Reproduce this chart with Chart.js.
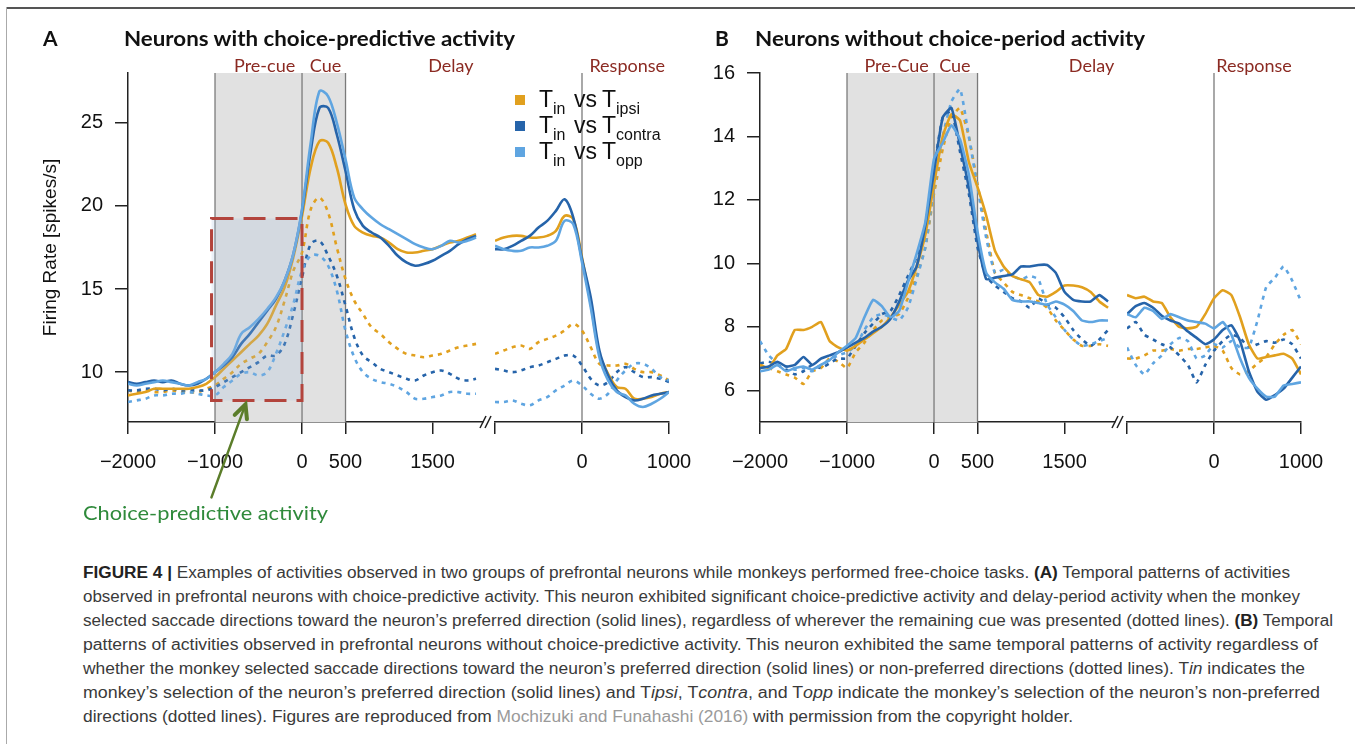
<!DOCTYPE html>
<html>
<head>
<meta charset="utf-8">
<script src="https://cdn.jsdelivr.net/npm/chart.js@4.4.0/dist/chart.umd.min.js"></script>
<style>
    body { margin: 0; background: #fff; }
    #page { position: relative; width: 1355px; height: 744px; overflow: hidden; font-family: 'Liberation Sans', Arial, sans-serif; }
    canvas { position: absolute; top: 0; }
    .abs { position: absolute; white-space: nowrap; }
    .frame-top { position: absolute; left: 7px; right: 0; top: 7px; border-top: 2px solid #555; }
    .frame-left { position: absolute; left: 6px; top: 7px; bottom: 0; border-left: 1.5px solid #aaa; }
    .letter { font: bold 21px Lato, sans-serif; top: 26px; line-height: 24px; color: #111; }
    .title { font: bold 20px Lato, sans-serif; top: 26px; line-height: 24px; color: #111; transform-origin: left center; }
    .leg { font-size: 23px; line-height: 23px; color: #111; }
    .leg .sub { font-size: 16px; position: relative; top: 7px; }
    .swatch { position: absolute; width: 10px; height: 10px; }
    .cap { left: 83px; font-size: 16px; line-height: 24px; color: #3a3a3a; transform-origin: left center; }
    .cap b { color: #222; }
    .cap .ref { color: #9a9a9a; }
    .green { font: 20px Lato, sans-serif; color: #2f8a3b; left: 83px; top: 500px; line-height: 24px; transform-origin: left center; }
</style>
</head>
<body>
<div id="page">
    <canvas id="aCue" width="500" height="520" style="left:0"></canvas>
    <canvas id="aResp" width="231" height="520" style="left:479px"></canvas>
    <canvas id="bCue" width="500" height="520" style="left:632px"></canvas>
    <canvas id="bResp" width="231" height="520" style="left:1111px"></canvas>

    <div class="frame-top"></div>
    <div class="frame-left"></div>

    <div class="abs letter" style="left:43px">A</div>
    <div class="abs title" style="left:124px" data-w="391">Neurons with choice-predictive activity</div>
    <div class="abs letter" style="left:715px">B</div>
    <div class="abs title" style="left:755px" data-w="390">Neurons without choice-period activity</div>

    <div id="legend"></div>

    <div class="abs green" data-w="245">Choice-predictive activity</div>

    <div class="abs cap" style="top:561px" data-w="1207"><b>FIGURE 4 |</b> Examples of activities observed in two groups of prefrontal neurons while monkeys performed free-choice tasks. <b>(A)</b> Temporal patterns of activities</div>
    <div class="abs cap" style="top:585px" data-w="1217">observed in prefrontal neurons with choice-predictive activity. This neuron exhibited significant choice-predictive activity and delay-period activity when the monkey</div>
    <div class="abs cap" style="top:609px" data-w="1250">selected saccade directions toward the neuron’s preferred direction (solid lines), regardless of wherever the remaining cue was presented (dotted lines). <b>(B)</b> Temporal</div>
    <div class="abs cap" style="top:633px" data-w="1235">patterns of activities observed in prefrontal neurons without choice-predictive activity. This neuron exhibited the same temporal patterns of activity regardless of</div>
    <div class="abs cap" style="top:657px" data-w="1222">whether the monkey selected saccade directions toward the neuron’s preferred direction (solid lines) or non-preferred directions (dotted lines). T<i>in</i> indicates the</div>
    <div class="abs cap" style="top:681px" data-w="1237">monkey’s selection of the neuron’s preferred direction (solid lines) and T<i>ipsi</i>, T<i>contra</i>, and T<i>opp</i> indicate the monkey’s selection of the neuron’s non-preferred</div>
    <div class="abs cap last" style="top:705px">directions (dotted lines). Figures are reproduced from <span class="ref">Mochizuki and Funahashi (2016)</span> with permission from the copyright holder.</div>
</div>

<script>
// time axes (ms), cue-aligned and response-aligned
const T_CUE = [-2000, -1900, -1800, -1700, -1600, -1500, -1400, -1300, -1200, -1100, -1000, -900, -800, -700, -600, -500, -400, -300, -200, -100, 0, 100, 200, 300, 400, 500, 600, 700, 800, 900, 1000, 1100, 1200, 1300, 1400, 1500, 1600, 1700, 1800, 1900, 2000];
const T_RESP = [-1000, -900, -800, -700, -600, -500, -400, -300, -200, -100, 0, 100, 200, 300, 400, 500, 600, 700, 800, 900, 1000];

const X_TICKS_CUE = [-2000, -1000, 0, 500, 1500];
const X_TICKS_RESP = [-1000, 0, 1000];
const X_LABELS_RESP = ['', '0', '1000'];

const Y_TICKS_A = [10, 15, 20, 25];
const Y_RANGE_A = [7, 28];
const Y_TICKS_B = [6, 8, 10, 12, 14, 16];
const Y_RANGE_B = [5, 16];

const PERIODS_A = ['Pre-cue', 'Cue', 'Delay'];
const PERIODS_B = ['Pre-Cue', 'Cue', 'Delay'];
const RESPONSE_LABEL = 'Response';
const LEGEND_KEYS = ['ipsi', 'contra', 'opp'];

// Panel A - neuron with choice-predictive activity (spikes/s)
const A_IPSI_SOLID_CUE = [8.6, 8.7, 8.8, 9.0, 9.0, 9.0, 9.0, 9.0, 9.1, 9.3, 9.7, 10.2, 10.7, 11.2, 11.7, 12.2, 12.9, 14.0, 15.1, 16.9, 19.4, 22.3, 23.9, 23.8, 22.3, 20.1, 18.8, 18.4, 18.2, 18.1, 17.8, 17.4, 17.2, 17.2, 17.3, 17.4, 17.6, 17.8, 17.9, 18.1, 18.3];
const A_CONTRA_SOLID_CUE = [9.4, 9.3, 9.4, 9.5, 9.4, 9.5, 9.3, 9.2, 9.3, 9.6, 10.0, 10.4, 10.9, 11.7, 12.3, 13.0, 13.7, 14.4, 15.5, 17.1, 19.7, 23.3, 25.9, 25.9, 24.3, 22.1, 19.8, 18.8, 18.4, 18.1, 17.6, 17.0, 16.6, 16.4, 16.5, 16.7, 17.0, 17.3, 17.7, 18.0, 18.2];
const A_OPP_SOLID_CUE = [9.3, 9.2, 9.3, 9.4, 9.5, 9.4, 9.3, 9.2, 9.4, 9.6, 10.0, 10.5, 11.1, 12.3, 12.7, 13.2, 13.8, 14.5, 15.5, 17.1, 19.8, 23.8, 26.9, 26.6, 25.0, 22.8, 20.5, 19.8, 19.3, 18.9, 18.6, 18.3, 18.0, 17.7, 17.5, 17.4, 17.6, 17.9, 17.8, 17.9, 18.1];
const A_IPSI_DOT_CUE = [8.9, 8.8, 8.9, 8.8, 8.8, 8.9, 8.8, 8.8, 8.8, 9.0, 9.2, 9.6, 10.0, 10.5, 10.8, 11.1, 11.8, 12.7, 14.3, 16.1, 17.2, 19.8, 20.5, 19.6, 17.5, 15.6, 14.3, 13.5, 12.7, 12.3, 11.8, 11.4, 11.1, 11.0, 10.9, 11.0, 11.1, 11.3, 11.5, 11.6, 11.7];
const A_CONTRA_DOT_CUE = [8.9, 8.9, 9.0, 9.0, 8.9, 9.0, 8.9, 8.9, 8.9, 8.9, 9.1, 9.4, 9.7, 10.0, 10.3, 10.6, 11.0, 11.0, 11.7, 13.5, 15.7, 17.7, 17.9, 17.0, 15.8, 14.0, 12.1, 11.0, 10.6, 10.2, 10.0, 9.8, 9.6, 9.5, 9.8, 10.0, 10.1, 9.9, 9.6, 9.5, 9.6];
const A_OPP_DOT_CUE = [8.2, 8.3, 8.4, 8.6, 8.6, 8.7, 8.7, 8.8, 8.7, 8.6, 8.6, 9.1, 9.5, 9.9, 10.0, 9.8, 10.0, 11.1, 12.5, 14.1, 16.1, 17.0, 17.0, 16.4, 14.9, 12.5, 10.9, 10.0, 9.6, 9.4, 9.3, 9.1, 8.8, 8.4, 8.4, 8.5, 8.6, 8.8, 8.8, 8.7, 8.7];

const A_IPSI_SOLID_RESP = [17.9, 18.1, 18.2, 18.2, 18.1, 18.1, 18.2, 18.5, 19.4, 19.2, 16.9, 14.1, 11.1, 9.9, 9.1, 9.0, 8.4, 8.4, 8.5, 8.7, 8.8];
const A_CONTRA_SOLID_RESP = [17.4, 17.4, 17.6, 17.9, 18.2, 18.7, 19.1, 19.7, 20.4, 19.3, 16.8, 14.5, 11.3, 9.8, 8.9, 8.5, 8.3, 8.4, 8.6, 8.7, 8.8];
const A_OPP_SOLID_RESP = [17.6, 17.4, 17.3, 17.3, 17.5, 17.5, 17.6, 17.9, 19.1, 18.9, 16.6, 13.9, 10.9, 9.5, 8.8, 8.6, 8.1, 7.9, 8.1, 8.4, 8.8];
const A_IPSI_DOT_RESP = [11.1, 11.3, 11.5, 11.6, 11.4, 11.8, 12.0, 12.2, 12.5, 12.9, 12.5, 11.5, 10.5, 10.4, 10.4, 10.5, 10.2, 10.0, 10.0, 9.8, 9.5];
const A_CONTRA_DOT_RESP = [10.2, 10.1, 10.0, 10.1, 10.3, 10.4, 10.6, 10.8, 11.0, 11.0, 10.4, 9.6, 9.2, 9.4, 10.0, 10.3, 10.0, 9.7, 9.7, 9.6, 9.4];
const A_OPP_DOT_RESP = [8.2, 8.2, 8.3, 8.1, 8.0, 8.3, 8.5, 8.9, 9.2, 9.5, 9.2, 8.7, 8.4, 8.7, 9.5, 10.1, 10.5, 10.5, 10.2, 9.7, 9.5];

// Panel B - neuron without choice-period activity (spikes/s)
const B_IPSI_SOLID_CUE = [6.8, 6.7, 7.1, 7.3, 7.9, 7.9, 8.0, 8.15, 7.55, 7.35, 7.25, 7.4, 7.6, 7.8, 8.0, 8.3, 8.7, 9.1, 9.9, 10.9, 12.5, 14.0, 14.7, 14.5, 13.2, 12.4, 11.5, 10.4, 9.9, 9.6, 9.5, 9.4, 9.0, 8.95, 9.1, 9.3, 9.3, 9.25, 9.1, 8.8, 8.6];
const B_CONTRA_SOLID_CUE = [6.7, 6.75, 6.9, 6.75, 6.8, 7.05, 6.8, 7.0, 7.1, 7.2, 7.35, 7.5, 7.65, 7.85, 8.0, 8.25, 8.8, 9.45, 9.9, 11.2, 12.9, 14.6, 14.9, 13.7, 12.4, 10.7, 9.5, 9.55, 9.6, 9.65, 9.9, 9.9, 9.95, 9.95, 9.7, 9.1, 8.85, 8.8, 8.8, 9.0, 8.8];
const B_OPP_SOLID_CUE = [6.6, 6.65, 6.8, 6.6, 6.7, 6.75, 6.65, 6.8, 6.95, 7.2, 7.4, 7.65, 8.3, 8.85, 8.65, 8.3, 8.5, 9.4, 10.3, 11.3, 13.3, 13.8, 14.35, 13.9, 12.8, 11.0, 9.7, 9.4, 9.2, 8.85, 8.8, 8.8, 8.75, 8.7, 8.8, 8.7, 8.5, 8.2, 8.15, 8.2, 8.2];
const B_IPSI_DOT_CUE = [6.8, 6.7, 6.6, 6.5, 6.4, 6.2, 6.6, 6.7, 7.0, 6.9, 6.7, 7.2, 7.5, 7.9, 8.2, 8.3, 8.4, 8.9, 9.6, 10.5, 12.2, 13.6, 14.6, 14.9, 14.0, 12.5, 11.0, 9.7, 9.4, 9.1, 9.0, 8.9, 8.8, 8.6, 8.2, 7.9, 7.6, 7.4, 7.4, 7.45, 7.4];
const B_CONTRA_DOT_CUE = [6.85, 6.9, 6.8, 6.65, 6.5, 6.6, 6.8, 6.7, 6.85, 7.0, 7.0, 7.4, 7.8, 8.1, 8.4, 8.5, 9.0, 9.6, 10.2, 11.2, 13.0, 14.6, 14.8, 13.5, 12.2, 10.5, 9.6, 9.3, 9.1, 8.9, 8.8, 8.6, 8.9, 8.7, 8.6, 8.3, 7.9, 7.6, 7.4, 7.6, 7.9];
const B_OPP_DOT_CUE = [7.55, 7.1, 6.85, 6.75, 6.65, 6.7, 6.6, 6.8, 6.95, 7.1, 7.2, 7.4, 7.9, 8.3, 8.4, 8.3, 8.2, 8.6, 9.5, 10.5, 12.4, 14.0, 15.1, 15.5, 14.0, 12.4, 10.8, 9.7, 9.8, 9.6, 9.5, 9.6, 9.5, 8.7, 8.3, 7.9, 7.6, 7.4, 7.45, 7.55, 7.65];

const B_IPSI_SOLID_RESP = [9.0, 8.9, 8.95, 8.8, 8.75, 8.3, 8.0, 7.95, 8.0, 8.4, 8.9, 9.15, 9.0, 8.3, 7.45, 7.0, 7.05, 7.1, 7.15, 7.0, 6.5];
const B_CONTRA_SOLID_RESP = [8.4, 8.65, 8.75, 8.6, 8.35, 8.2, 8.1, 7.85, 7.65, 7.45, 7.6, 7.9, 8.05, 7.55, 6.6, 5.95, 5.7, 5.85, 6.05, 6.4, 6.75];
const B_OPP_SOLID_RESP = [8.4, 8.3, 8.6, 8.5, 8.25, 8.4, 8.3, 8.2, 8.15, 8.1, 7.95, 8.15, 7.75, 7.0, 6.4, 6.05, 5.8, 5.8, 6.15, 6.2, 6.25];
const B_IPSI_DOT_RESP = [7.0, 7.0, 7.1, 7.25, 7.25, 7.3, 7.25, 7.3, 7.3, 7.35, 7.4, 7.25, 6.7, 6.5, 6.6, 6.85, 7.05, 7.45, 7.75, 7.9, 7.45];
const B_CONTRA_DOT_RESP = [7.95, 8.15, 7.75, 7.6, 7.45, 7.35, 7.1, 6.8, 6.25, 6.8, 7.25, 7.55, 7.75, 7.65, 7.35, 7.45, 7.55, 7.5, 7.6, 7.45, 7.0];
const B_OPP_DOT_RESP = [7.35, 6.8, 6.5, 6.85, 7.1, 7.45, 7.65, 7.55, 7.0, 7.1, 7.45, 7.35, 7.55, 7.35, 7.35, 8.2, 9.25, 9.55, 9.9, 9.45, 8.8];

// highlighted window in panel A (ms, spikes/s)
const BOX_A = { x0: -1040, x1: 0, y0: 8.3, y1: 19.25 };

const COLORS = { ipsi: '#E1A01E', contra: '#2664AA', opp: '#5FA5E1' };
const AXIS_FONT = "'Liberation Sans', Arial, sans-serif";
const TICK_PAD = 16;

Chart.defaults.font.family = AXIS_FONT;

function minus(v) {
    return String(v).replace('-', '\u2212');
}

function line(times, values, color, dotted, tension) {
    return {
        data: times.map((t, i) => ({ x: t, y: values[i] })),
        borderColor: color,
        borderWidth: 2.6,
        borderDash: dotted ? [4, 5] : [],
        pointRadius: 0,
        tension: tension,
        fill: false
    };
}

// solid first so they sit on top of the dotted ones
function datasets(times, solid, dotted, tension) {
    const out = [];
    ['opp', 'contra', 'ipsi'].forEach(k => out.push(line(times, solid[k], COLORS[k], false, tension)));
    ['opp', 'contra', 'ipsi'].forEach(k => out.push(line(times, dotted[k], COLORS[k], true, tension)));
    return out;
}

// shading, event lines, period names, axis break, highlight box
const periodPlugin = {
    id: 'periods',
    beforeDatasetsDraw(chart, args, o) {
        const { ctx, chartArea: a, scales: { x } } = chart;
        ctx.save();
        if (o.shade) {
            const x0 = x.getPixelForValue(o.shade[0]);
            const x1 = x.getPixelForValue(o.shade[1]);
            ctx.fillStyle = '#e1e1e1';
            ctx.fillRect(x0, a.top, x1 - x0, a.bottom - a.top);
        }
        ctx.strokeStyle = '#7a7a7a';
        ctx.lineWidth = 1.3;
        (o.lines || []).forEach(v => {
            const px = x.getPixelForValue(v);
            ctx.beginPath();
            ctx.moveTo(px, a.top);
            ctx.lineTo(px, a.bottom);
            ctx.stroke();
        });
        ctx.fillStyle = '#8b2a22';
        ctx.font = '18px Lato, sans-serif';
        ctx.textAlign = 'center';
        (o.labels || []).forEach((s, i) => ctx.fillText(s, x.getPixelForValue(o.labelAt[i]), a.top - 1));
        ctx.restore();
    },
    afterDatasetsDraw(chart, args, o) {
        if (!o.box) return;
        const { ctx, scales: { x, y } } = chart;
        const b = o.box;
        const left = x.getPixelForValue(b.x0), right = x.getPixelForValue(b.x1);
        const top = y.getPixelForValue(b.y1), bottom = y.getPixelForValue(b.y0);
        ctx.save();
        ctx.fillStyle = 'rgba(165, 192, 225, 0.22)';
        ctx.fillRect(left, top, right - left, bottom - top);
        ctx.strokeStyle = '#b3443c';
        ctx.lineWidth = 3;
        ctx.setLineDash([22, 10]);
        ctx.strokeRect(left, top, right - left, bottom - top);

        // arrow pointing up at the box
        const tipX = x.getPixelForValue(o.arrowAt), tipY = bottom + 4;
        const tailX = tipX - 34, tailY = tipY + 93;
        const ang = Math.atan2(tipY - tailY, tipX - tailX);
        ctx.setLineDash([]);
        ctx.strokeStyle = '#5b7d2a';
        ctx.lineWidth = 2.5;
        ctx.lineCap = 'round';
        ctx.beginPath();
        ctx.moveTo(tailX, tailY);
        ctx.lineTo(tipX, tipY);
        ctx.stroke();
        ctx.lineWidth = 4;
        ctx.beginPath();
        ctx.moveTo(tipX - 15 * Math.cos(ang - 0.45), tipY - 15 * Math.sin(ang - 0.45));
        ctx.lineTo(tipX, tipY);
        ctx.lineTo(tipX - 15 * Math.cos(ang + 0.45), tipY - 15 * Math.sin(ang + 0.45));
        ctx.stroke();
        ctx.restore();
    },
    afterDraw(chart, args, o) {
        if (!o.brk) return;
        const { ctx, chartArea: a } = chart;
        ctx.save();
        ctx.strokeStyle = '#222';
        ctx.lineWidth = 1.5;
        [0, 5].forEach(dx => {
            ctx.beginPath();
            ctx.moveTo(a.right - 3 + dx, a.bottom + 6);
            ctx.lineTo(a.right + 3 + dx, a.bottom - 6);
            ctx.stroke();
        });
        ctx.restore();
    }
};

function makeChart(id, cfg) {
    const canvas = document.getElementById(id);
    const yAxis = {
        min: cfg.yRange[0],
        max: cfg.yRange[1],
        display: cfg.showY
    };
    if (cfg.showY) {
        Object.assign(yAxis, {
            afterBuildTicks: ax => { ax.ticks = cfg.yTicks.map(v => ({ value: v })); },
            afterFit: s => { s.width = 128; },
            ticks: { font: { size: 20 }, color: '#111', padding: 12 },
            grid: { drawOnChartArea: false, tickLength: 13, color: '#222', lineWidth: 1.5 },
            border: { color: '#222', width: 1.5 },
            title: {
                display: !!cfg.yTitle,
                text: cfg.yTitle || '',
                font: { size: 19 },
                color: '#111',
                padding: { top: 39, bottom: 0 }
            }
        });
    }
    return new Chart(canvas, {
        type: 'line',
        data: { datasets: cfg.datasets },
        options: {
            responsive: false,
            animation: false,
            events: [],
            layout: { padding: { left: cfg.padLeft, right: cfg.padRight, top: 73, bottom: 38 } },
            plugins: {
                legend: { display: false },
                tooltip: { enabled: false },
                periods: cfg.periods
            },
            scales: {
                x: {
                    type: 'linear',
                    min: cfg.xRange[0],
                    max: cfg.xRange[1],
                    afterBuildTicks: ax => { ax.ticks = cfg.xTicks.map(v => ({ value: v })); },
                    afterFit: s => { s.height = 60; },
                    ticks: {
                        autoSkip: false,
                        maxRotation: 0,
                        font: { size: 20 },
                        color: '#111',
                        padding: TICK_PAD,
                        callback: (v) => {
                            const i = cfg.xTicks.indexOf(v);
                            return cfg.xLabels ? cfg.xLabels[i] : minus(v);
                        }
                    },
                    grid: { drawOnChartArea: false, tickLength: 12, color: '#222', lineWidth: 1.5 },
                    border: { color: '#222', width: 1.5 }
                },
                y: yAxis
            }
        },
        plugins: [periodPlugin]
    });
}

function buildLegend() {
    const box = document.getElementById('legend');
    LEGEND_KEYS.forEach((k, i) => {
        const top = 88 + i * 26;
        box.insertAdjacentHTML('beforeend',
            `<div class="swatch" style="left:515px;top:${top + 7}px;background:${COLORS[k]}"></div>` +
            `<div class="abs leg" style="left:539px;top:${top}px">T<span class="sub">in</span></div>` +
            `<div class="abs leg" style="left:574px;top:${top}px">vs</div>` +
            `<div class="abs leg" style="left:602px;top:${top}px">T<span class="sub">${k}</span></div>`);
    });
}

function fitWidths() {
    const scales = [];
    document.querySelectorAll('[data-w]').forEach(el => {
        const s = Number(el.dataset.w) / el.getBoundingClientRect().width;
        el.style.transform = `scaleX(${s})`;
        if (el.classList.contains('cap')) scales.push(s);
    });
    // last caption line takes the mean squeeze of the others
    const avg = scales.reduce((p, c) => p + c, 0) / scales.length;
    document.querySelector('.cap.last').style.transform = `scaleX(${avg})`;
}

document.addEventListener('DOMContentLoaded', function () {
    buildLegend();
    fitWidths();

    makeChart('aCue', {
        datasets: datasets(T_CUE,
            { ipsi: A_IPSI_SOLID_CUE, contra: A_CONTRA_SOLID_CUE, opp: A_OPP_SOLID_CUE },
            { ipsi: A_IPSI_DOT_CUE, contra: A_CONTRA_DOT_CUE, opp: A_OPP_DOT_CUE }, 0.35),
        xRange: [-2000, 2080], xTicks: X_TICKS_CUE,
        yRange: Y_RANGE_A, yTicks: Y_TICKS_A, showY: true, yTitle: 'Firing Rate [spikes/s]',
        padLeft: 0, padRight: 17,
        periods: { shade: [-1000, 500], lines: [-1000, 0, 500], labels: PERIODS_A, labelAt: [-430, 270, 1710], brk: true, box: BOX_A, arrowAt: -650 }
    });
    makeChart('aResp', {
        datasets: datasets(T_RESP,
            { ipsi: A_IPSI_SOLID_RESP, contra: A_CONTRA_SOLID_RESP, opp: A_OPP_SOLID_RESP },
            { ipsi: A_IPSI_DOT_RESP, contra: A_CONTRA_DOT_RESP, opp: A_OPP_DOT_RESP }, 0.35),
        xRange: [-1000, 1000], xTicks: X_TICKS_RESP, xLabels: X_LABELS_RESP,
        yRange: Y_RANGE_A, showY: false,
        padLeft: 0, padRight: 41,
        periods: { lines: [0], labels: [RESPONSE_LABEL], labelAt: [520] }
    });
    makeChart('bCue', {
        datasets: datasets(T_CUE,
            { ipsi: B_IPSI_SOLID_CUE, contra: B_CONTRA_SOLID_CUE, opp: B_OPP_SOLID_CUE },
            { ipsi: B_IPSI_DOT_CUE, contra: B_CONTRA_DOT_CUE, opp: B_OPP_DOT_CUE }, 0.15),
        xRange: [-2000, 2080], xTicks: X_TICKS_CUE,
        yRange: Y_RANGE_B, yTicks: Y_TICKS_B, showY: true,
        padLeft: 0, padRight: 17,
        periods: { shade: [-1000, 500], lines: [-1000, 0, 500], labels: PERIODS_B, labelAt: [-430, 240, 1810], brk: true }
    });
    makeChart('bResp', {
        datasets: datasets(T_RESP,
            { ipsi: B_IPSI_SOLID_RESP, contra: B_CONTRA_SOLID_RESP, opp: B_OPP_SOLID_RESP },
            { ipsi: B_IPSI_DOT_RESP, contra: B_CONTRA_DOT_RESP, opp: B_OPP_DOT_RESP }, 0.15),
        xRange: [-1000, 1000], xTicks: X_TICKS_RESP, xLabels: X_LABELS_RESP,
        yRange: Y_RANGE_B, showY: false,
        padLeft: 0, padRight: 41,
        periods: { lines: [0], labels: [RESPONSE_LABEL], labelAt: [460] }
    });
});
</script>
</body>
</html>
